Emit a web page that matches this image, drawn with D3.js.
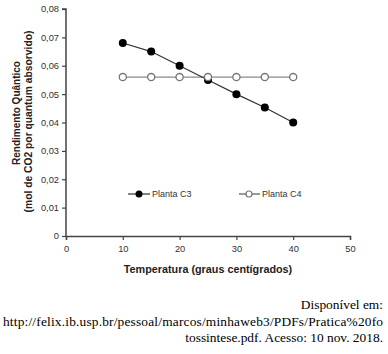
<!DOCTYPE html>
<html>
<head>
<meta charset="utf-8">
<script src="https://cdn.jsdelivr.net/npm/d3@7"></script>
<style>
  body { margin: 0; background: #fff; }
  svg text { font-family: "Liberation Sans", Arial, sans-serif; }
</style>
</head>
<body>
<svg id="chart" width="388" height="354"></svg>
<script>
// data
var temps = [10, 15, 20, 25, 30, 35, 40];
var c3 = [0.068, 0.065, 0.060, 0.055, 0.050, 0.0453, 0.040];
var c4 = [0.056, 0.056, 0.056, 0.056, 0.056, 0.056, 0.056];
var xTicks = [0, 10, 20, 30, 40, 50];
var yTicks = [0, 0.01, 0.02, 0.03, 0.04, 0.05, 0.06, 0.07, 0.08];
var sourceLines = [
  'Disponível em:',
  'http://felix.ib.usp.br/pessoal/marcos/minhaweb3/PDFs/Pratica%20fo',
  'tossintese.pdf. Acesso: 10 nov. 2018.'
];

var svg = d3.select('#chart');
var axisCol = '#444';

var x = d3.scaleLinear().domain([0, 50]).range([66, 350]);
var y = d3.scaleLinear().domain([0, 0.08]).range([236, 9]);

var comma = function (v) { return v === 0 ? '0' : d3.format('.2f')(v).replace('.', ','); };

// y axis
var gy = svg.append('g').attr('transform', 'translate(66,0)')
  .call(d3.axisLeft(y).tickValues(yTicks).tickFormat(comma).tickSize(4).tickPadding(3));
// x axis
var gx = svg.append('g').attr('transform', 'translate(0,236)')
  .call(d3.axisBottom(x).tickValues(xTicks).tickFormat(d3.format('d')).tickSize(4).tickPadding(5));

[gx, gy].forEach(function (g) {
  g.select('.domain').attr('stroke', axisCol).attr('stroke-width', 1.5);
  g.selectAll('.tick line').attr('stroke', axisCol).attr('stroke-width', 1.2);
  g.selectAll('.tick text').attr('fill', '#333').style('font-size', '9.3px')
    .style('font-family', '"Liberation Sans", Arial, sans-serif');
});
gy.select('.domain').attr('d', 'M-4,' + y(0.08) + 'H0V' + y(0));

// series
var line = d3.line().x(function (d) { return x(d[0]); }).y(function (d) { return y(d[1]); });
var c4pts = temps.map(function (t, i) { return [t, c4[i]]; });
var c3pts = temps.map(function (t, i) { return [t, c3[i]]; });

svg.append('path').datum(c4pts).attr('d', line)
  .attr('fill', 'none').attr('stroke', '#8a8a8a').attr('stroke-width', 1.4);
svg.append('path').datum(c3pts).attr('d', line)
  .attr('fill', 'none').attr('stroke', '#333').attr('stroke-width', 1.2);

svg.selectAll('.c3').data(c3pts).enter().append('circle')
  .attr('cx', function (d) { return x(d[0]); }).attr('cy', function (d) { return y(d[1]); })
  .attr('r', 4).attr('fill', '#000');
svg.selectAll('.c4').data(c4pts).enter().append('circle')
  .attr('cx', function (d) { return x(d[0]); }).attr('cy', function (d) { return y(d[1]); })
  .attr('r', 3.6).attr('fill', '#fff').attr('stroke', '#777').attr('stroke-width', 1.3);

// legend
var leg = svg.append('g');
leg.append('line').attr('x1', 128).attr('x2', 150).attr('y1', 194).attr('y2', 194)
  .attr('stroke', '#333').attr('stroke-width', 1.2);
leg.append('circle').attr('cx', 139).attr('cy', 194).attr('r', 3.5).attr('fill', '#000');
leg.append('text').attr('x', 152).attr('y', 197).style('font-size', '9px').attr('fill', '#333').text('Planta C3');
leg.append('line').attr('x1', 239).attr('x2', 260).attr('y1', 194).attr('y2', 194)
  .attr('stroke', '#555').attr('stroke-width', 1.2);
leg.append('circle').attr('cx', 249).attr('cy', 194).attr('r', 3).attr('fill', '#fff')
  .attr('stroke', '#777').attr('stroke-width', 1.2);
leg.append('text').attr('x', 262).attr('y', 197).style('font-size', '9px').attr('fill', '#333').text('Planta C4');

// axis titles
svg.append('text').attr('x', 208).attr('y', 273).attr('text-anchor', 'middle')
  .style('font-size', '10.8px').style('font-weight', 'bold').attr('fill', '#222')
  .text('Temperatura (graus centígrados)');
svg.append('text').attr('transform', 'translate(19.5,113) rotate(-90)').attr('text-anchor', 'middle')
  .style('font-size', '10px').style('font-weight', 'bold').attr('fill', '#222')
  .text('Rendimento Quântico');
svg.append('text').attr('transform', 'translate(32,121.5) rotate(-90)').attr('text-anchor', 'middle')
  .style('font-size', '10.3px').style('font-weight', 'bold').attr('fill', '#222')
  .text('(mol de CO2 por quantum absorvido)');

// source
svg.selectAll('.src').data(sourceLines).enter().append('text')
  .attr('x', 383).attr('y', function (d, i) { return 309 + i * 16.5; })
  .attr('text-anchor', 'end')
  .style('font-family', '"Liberation Serif", "Times New Roman", serif')
  .style('font-size', '13.4px').attr('fill', '#000')
  .text(function (d) { return d; })
  .filter(function (d, i) { return i === 1; })
  .attr('textLength', 380).attr('lengthAdjust', 'spacing');
</script>
</body>
</html>
